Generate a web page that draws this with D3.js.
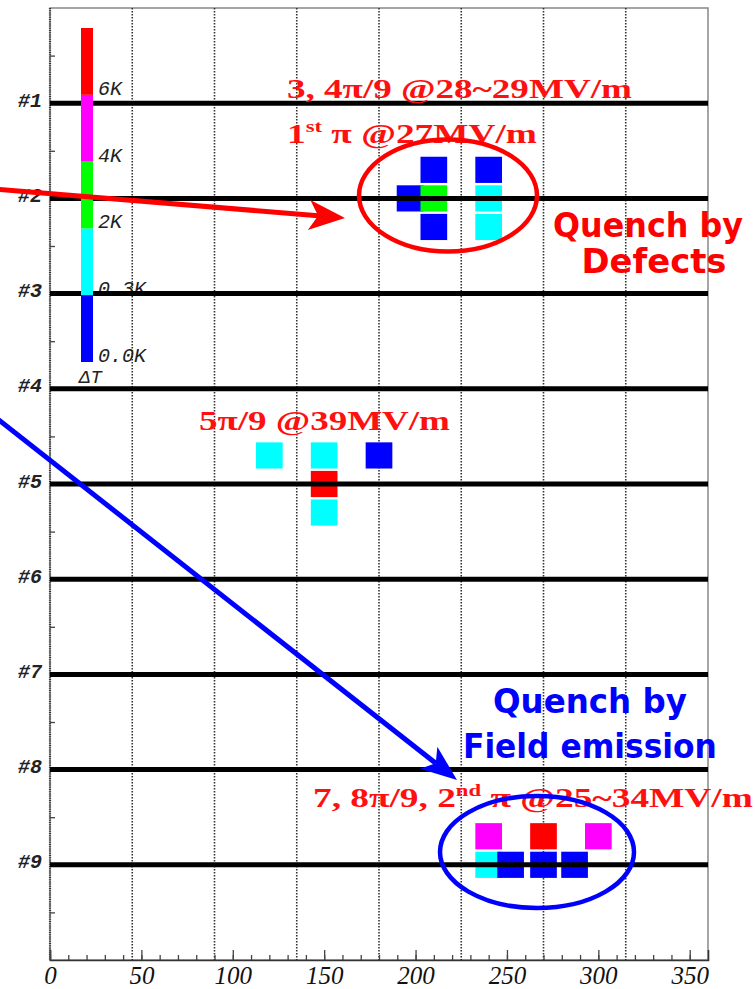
<!DOCTYPE html>
<html>
<head>
<meta charset="utf-8">
<script src="https://cdn.jsdelivr.net/npm/d3@7/dist/d3.min.js"></script>
<style>
  html, body { margin: 0; padding: 0; background: #fff; }
  svg { display: block; }
</style>
</head>
<body>
<svg id="chart" width="755" height="989"></svg>
<script>
// ---- data ---------------------------------------------------------------
// azimuth tick labels (degrees) and sensor-string grid positions
const xTickValues = [0, 50, 100, 150, 200, 250, 300, 350];
const xMinorValues = d3.range(0, 360, 10);
const stringAngles = [45, 90, 135, 180, 225, 270, 315];

// cell rows (#1 .. #9)
const rowLabels = ["#1", "#2", "#3", "#4", "#5", "#6", "#7", "#8", "#9"];
const rowLevels = [1, 2, 3, 4, 5, 6, 7, 8, 9];
const rowMinorTicks = [0.5, 1.5, 2.5, 3.5, 4.5, 5.5, 6.5, 7.5, 8.5, 9.5];

// temperature scale (ΔT)
const deltaTThresholds = [0.3, 2, 4, 6];
const deltaTColors = ["#0000ff", "#00ffff", "#00ff00", "#ff00ff", "#ff0000"];
const deltaTLabels = ["0.0K", "0.3K", "2K", "4K", "6K"];

// sensor readings: azimuth (deg), row position, ΔT (K)
const sensorAngle = [197, 210, 210, 210, 240, 240, 240,
                     120, 150, 180, 150, 150,
                     240, 270, 300, 240, 252, 270, 287];
const sensorRow   = [2.0, 1.7, 2.0, 2.3, 1.7, 2.0, 2.3,
                     4.7, 4.7, 4.7, 5.0, 5.3,
                     8.7, 8.7, 8.7, 9.0, 9.0, 9.0, 9.0];
const sensorDeltaT = [0.1, 0.1, 3.0, 0.1, 0.1, 1.0, 1.0,
                      1.0, 1.0, 0.1, 7.0, 1.0,
                      5.0, 7.0, 5.0, 1.0, 0.1, 0.1, 0.1];

// ---- scales -------------------------------------------------------------
const svg = d3.select("#chart");
const x = d3.scaleLinear().domain([0, 360]).range([50, 708]);
const y = d3.scaleLinear().domain([0, 10]).range([8, 960]);
const color = d3.scaleThreshold().domain(deltaTThresholds).range(deltaTColors);

const cellW = 14.6;   // degrees
const cellH = 0.275;  // row units

const monoFont = "'Liberation Mono', 'DejaVu Sans Mono', monospace";
const serifFont = "'Liberation Serif', 'DejaVu Serif', serif";
const sansFont = "'DejaVu Sans', 'Liberation Sans', sans-serif";

// ---- frame and grid -----------------------------------------------------
const plot = svg.append("g");

plot.append("rect")
  .attr("x", x(0)).attr("y", y(0))
  .attr("width", x(360) - x(0)).attr("height", y(10) - y(0))
  .attr("fill", "#fff").attr("stroke", "#888").attr("stroke-width", 1.5);

plot.append("g").selectAll("line").data(stringAngles).join("line")
  .attr("x1", d => x(d)).attr("x2", d => x(d))
  .attr("y1", y(0)).attr("y2", y(10))
  .attr("stroke", "#333").attr("stroke-width", 1.6)
  .attr("stroke-dasharray", "1.5,1.5");

// left axis drawn as a dotted ruler
plot.append("line")
  .attr("x1", x(0)).attr("x2", x(0)).attr("y1", y(0)).attr("y2", y(10))
  .attr("stroke", "#333").attr("stroke-width", 2.2)
  .attr("stroke-dasharray", "1,1.2");

// bottom axis: minor ticks, major ticks with labels
const xMinorAxis = d3.axisBottom(x).tickValues(xMinorValues)
  .tickSize(-5).tickFormat("");
plot.append("g").attr("transform", `translate(0,${y(10)})`).call(xMinorAxis)
  .call(g => g.select(".domain").remove())
  .call(g => g.selectAll(".tick line").attr("stroke", "#444").attr("stroke-width", 1.3));

const xAxis = d3.axisBottom(x).tickValues(xTickValues).tickSize(-10).tickPadding(6);
plot.append("g").attr("transform", `translate(0,${y(10)})`).call(xAxis)
  .call(g => g.select(".domain").attr("stroke", "#333").attr("stroke-width", 1.6))
  .call(g => g.selectAll(".tick line").attr("stroke", "#444").attr("stroke-width", 1.3))
  .call(g => g.selectAll(".tick text")
    .attr("font-family", serifFont).attr("font-style", "italic")
    .attr("font-size", 25).attr("fill", "#111"));

// left axis: half-row ticks and row labels
const yMinorAxis = d3.axisLeft(y).tickValues(rowMinorTicks).tickSize(-5).tickFormat("");
plot.append("g").attr("transform", `translate(${x(0)},0)`).call(yMinorAxis)
  .call(g => g.select(".domain").remove())
  .call(g => g.selectAll(".tick line").attr("stroke", "#444").attr("stroke-width", 1.3));

const yAxis = d3.axisLeft(y).tickValues(rowLevels).tickSize(0).tickPadding(8)
  .tickFormat((d, i) => rowLabels[i]);
plot.append("g").attr("transform", `translate(${x(0)},0)`).call(yAxis)
  .call(g => g.select(".domain").remove())
  .call(g => g.selectAll(".tick text")
    .attr("dy", "0.15em")
    .attr("font-family", monoFont).attr("font-style", "italic")
    .attr("font-weight", "bold").attr("font-size", 20).attr("fill", "#222"));

// ---- temperature cells ---------------------------------------------------
plot.append("g").selectAll("rect").data(sensorAngle).join("rect")
  .attr("x", (d, i) => x(d - cellW / 2))
  .attr("y", (d, i) => y(sensorRow[i] - cellH / 2))
  .attr("width", x(cellW) - x(0))
  .attr("height", y(cellH) - y(0))
  .attr("fill", (d, i) => color(sensorDeltaT[i]));

// ---- colour bar ----------------------------------------------------------
const barX = 81, barW = 12;
const bar = d3.scaleBand().domain(d3.range(deltaTColors.length).reverse()).range([28, 362]);

plot.append("g").selectAll("text").data(deltaTLabels).join("text")
  .attr("x", barX + barW + 5)
  .attr("y", (d, i) => bar(i) + bar.bandwidth())
  .attr("font-family", monoFont).attr("font-style", "italic")
  .attr("font-size", 20).attr("fill", "#222")
  .text(d => d);

plot.append("text")
  .attr("x", barX - 2).attr("y", 383)
  .attr("font-family", monoFont).attr("font-style", "italic")
  .attr("font-size", 19).attr("fill", "#222")
  .text("ΔT");

// cell rows (#1 .. #9)
plot.append("g").selectAll("line").data(rowLevels).join("line")
  .attr("x1", x(0)).attr("x2", x(360))
  .attr("y1", d => y(d)).attr("y2", d => y(d))
  .attr("stroke", "#000").attr("stroke-width", 5);

plot.append("g").selectAll("rect").data(deltaTColors).join("rect")
  .attr("x", barX).attr("width", barW)
  .attr("y", (d, i) => bar(i)).attr("height", bar.bandwidth())
  .attr("fill", d => d);

// ---- annotations --------------------------------------------------------
const notes = svg.append("g");

function fitWidth(sel, x0, width) {
  const w = sel.node().getBBox().width;
  const s = width / w;
  sel.attr("transform", `translate(${x0},0) scale(${s},1) translate(${-x0},0)`);
}

function serifNote(x0, yb, width, parts) {
  const t = notes.append("text")
    .attr("x", x0).attr("y", yb)
    .attr("font-family", serifFont).attr("font-weight", "bold")
    .attr("font-size", 28).attr("fill", "#ff1010");
  parts.forEach(p => {
    const ts = t.append("tspan").text(p.text);
    if (p.sup) ts.attr("font-size", 17).attr("dy", -11);
    if (p.after) ts.attr("dy", 11);
  });
  fitWidth(t, x0, width);
  return t;
}

function sansNote(cx, yb, width, text, fill) {
  const t = notes.append("text")
    .attr("x", cx - width / 2).attr("y", yb)
    .attr("font-family", sansFont).attr("font-weight", "bold")
    .attr("font-size", 33).attr("fill", fill)
    .text(text);
  fitWidth(t, cx - width / 2, width);
}

serifNote(287, 98, 345, [{ text: "3, 4π/9 @28~29MV/m" }]);
serifNote(287, 143, 250, [{ text: "1" }, { text: "st", sup: true }, { text: " π @27MV/m", after: true }]);
serifNote(199, 430, 251, [{ text: "5π/9 @39MV/m" }]);
serifNote(313, 807, 440, [{ text: "7, 8π/9, 2" }, { text: "nd", sup: true }, { text: " π @25~34MV/m", after: true }]);

// ellipses around the two quench regions
notes.append("ellipse")
  .attr("cx", 448).attr("cy", 195.5).attr("rx", 89).attr("ry", 56)
  .attr("fill", "none").attr("stroke", "#ff0000").attr("stroke-width", 4.5);
notes.append("ellipse")
  .attr("cx", 537).attr("cy", 852).attr("rx", 97).attr("ry", 56)
  .attr("fill", "none").attr("stroke", "#0000ff").attr("stroke-width", 4.5);

sansNote(648, 237, 190, "Quench by", "#ff0000");
sansNote(654, 273, 145, "Defects", "#ff0000");
sansNote(590, 713, 194, "Quench by", "#0000ff");
sansNote(590, 758, 254, "Field emission", "#0000ff");

// arrows
function arrow(x1, y1, x2, y2, fill, w, len, half) {
  const dx = x2 - x1, dy = y2 - y1, L = Math.hypot(dx, dy);
  const ux = dx / L, uy = dy / L, px = -uy, py = ux;
  const bx = x2 - ux * len, by = y2 - uy * len;
  const nx = x2 - ux * len * 0.75, ny = y2 - uy * len * 0.75;
  notes.append("line")
    .attr("x1", x1).attr("y1", y1).attr("x2", nx).attr("y2", ny)
    .attr("stroke", fill).attr("stroke-width", w);
  notes.append("path")
    .attr("d", d3.line()([[x2, y2], [bx + px * half, by + py * half], [nx, ny], [bx - px * half, by - py * half]]) + "Z")
    .attr("fill", fill);
}
arrow(-5, 189, 345, 218, "#ff0000", 5, 36, 15);
arrow(-5, 417, 457, 780, "#0000ff", 5, 36, 14);
</script>
</body>
</html>
